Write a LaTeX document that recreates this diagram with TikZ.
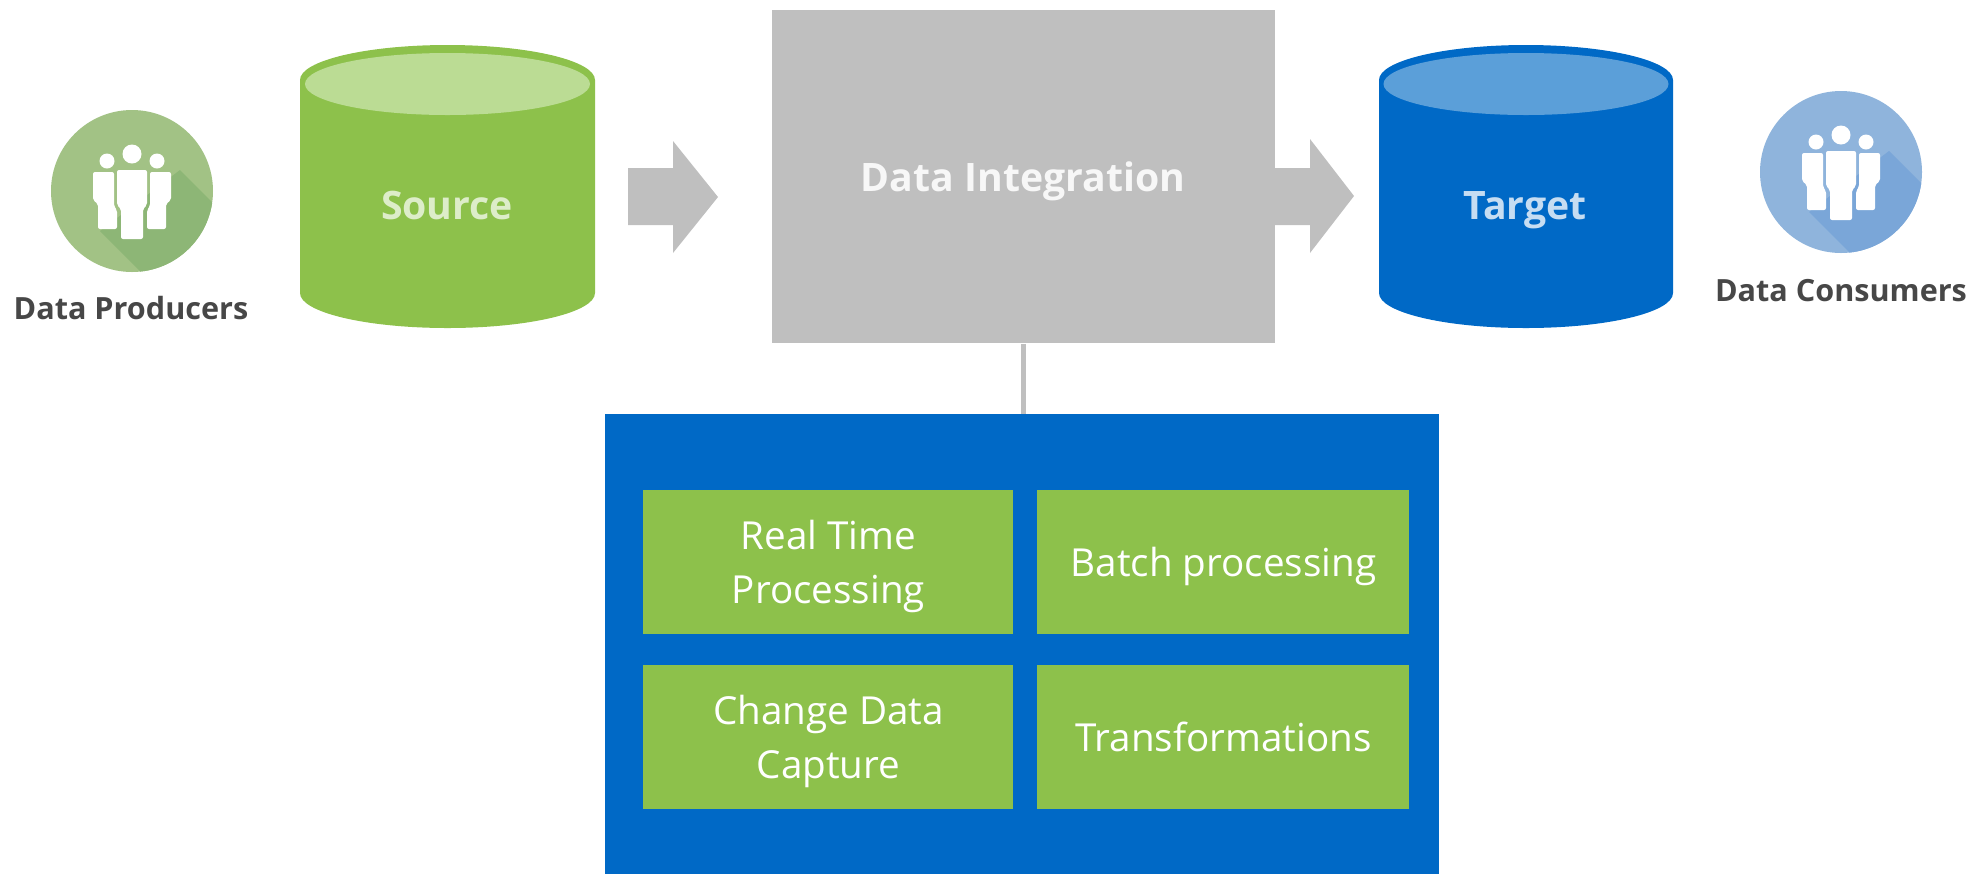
\documentclass[tikz,border=0pt]{standalone}
\usepackage{fontspec}
\setmainfont{Open Sans}
\definecolor{grn}{HTML}{8DC14B}
\definecolor{grntop}{HTML}{BBDC94}
\definecolor{blu}{HTML}{0069C6}
\definecolor{blutop}{HTML}{5B9FD9}
\definecolor{gry}{HTML}{BFBFBF}
\definecolor{gcirc}{HTML}{A2C285}
\definecolor{gshad}{HTML}{8DB676}
\definecolor{bcirc}{HTML}{8FB4DC}
\definecolor{bshad}{HTML}{7AA6D8}
\newcommand\lnstrut{\rule[-6.7pt]{0pt}{27pt}}
\tikzset{
  box/.style={draw=none,fill=#1,inner sep=0pt,align=center,text=white,font=\fontsize{19.3}{27}\selectfont},
  caption/.style={inner sep=0pt,anchor=base,text=black!72,font=\fontsize{15.3}{18}\selectfont\bfseries},
  cyltext/.style={inner sep=0pt,anchor=base,font=\fontsize{19.6}{24}\selectfont\bfseries},
  pics/people/.style n args={3}{code={
    \fill[#1] (0,0) circle (81);
    \begin{scope}
      \clip (0,0) circle (81);
      \fill[#2] (48,-21) -- (150,81) -- (110,182) -- (-32,40) -- cycle;
    \end{scope}
    \fill[white] (0,-37) circle (9.5) (-25,-30) circle (7.5) (25,-30) circle (7.5);
    \fill[white,rounded corners=1pt] (-15,-21) -- (15,-21) -- (15,14) -- (11,18) -- (11,48) -- (-11,48) -- (-11,18) -- (-15,14) -- cycle;
    \fill[white,rounded corners=1pt] (-39,-19) -- (-18,-19) -- (-18,15) -- (-15,19) -- (-15,38) -- (-34,38) -- (-34,13) -- (-39,9) -- cycle;
    \fill[white,rounded corners=1pt] (39,-19) -- (18,-19) -- (18,15) -- (15,19) -- (15,38) -- (34,38) -- (34,13) -- (39,9) -- cycle;
  }}
}
\begin{document}
\begin{tikzpicture}[x=0.5pt,y=-0.5pt]
\useasboundingbox (0,0) rectangle (1976,874);
% icons
\pic at (132,191) {people={gcirc}{gshad}{}};
\pic at (1841,172) {people={bcirc}{bshad}{}};
\node[caption] (prod) at (131,319) {Data Producers};
\node[caption] (cons) at (1841,301) {Data Consumers};
% source cylinder
\fill[grn] (300,80) arc[start angle=180,end angle=360,x radius=147.5,y radius=35] -- (595,293) arc[start angle=0,end angle=180,x radius=147.5,y radius=35] -- cycle;
\fill[grntop] (447.5,84) ellipse[x radius=142.5,y radius=31];
\node[cyltext,text=grntop!50!white] (src) at (447,219.5) {Source};
% target cylinder
\fill[blu] (1379,80) arc[start angle=180,end angle=360,x radius=147,y radius=35] -- (1673,293) arc[start angle=0,end angle=180,x radius=147,y radius=35] -- cycle;
\fill[blutop] (1526,84) ellipse[x radius=142.5,y radius=31];
\node[cyltext,text=blutop!35!white] (tgt) at (1525,219.5) {Target};
% data integration
\node[box=gry,minimum width=503pt/2,minimum height=333pt/2,anchor=north west] (di) at (772,10) {};
\node[cyltext,text=white!88!gry] (dit) at (1023,191.5) {Data Integration};
% arrows
\fill[gry] (628,168) -- (673,168) -- (673,141) -- (718,197) -- (673,253) -- (673,225) -- (628,225) -- cycle;
\fill[gry] (1275,168) -- (1310,168) -- (1310,139) -- (1354,196) -- (1310,253) -- (1310,225) -- (1275,225) -- cycle;
% details panel
\node[box=blu,minimum width=417pt,minimum height=230pt,anchor=north west] (panel) at (605,414) {};
\draw[gry,line width=2.5pt] (di.south) -- (di.south |- panel.north);
\node[box=grn,minimum width=185pt,minimum height=72pt,anchor=north west] (rt) at (643,490) {\lnstrut Real Time\\\lnstrut Processing};
\node[box=grn,minimum width=186pt,minimum height=72pt,anchor=north west] (bp) at (1037,490) {\lnstrut Batch processing};
\node[box=grn,minimum width=185pt,minimum height=72pt,anchor=north west] (cd) at (643,665) {\lnstrut Change Data\\\lnstrut Capture};
\node[box=grn,minimum width=186pt,minimum height=72pt,anchor=north west] (tr) at (1037,665) {\lnstrut Transformations};
\end{tikzpicture}
\end{document}
